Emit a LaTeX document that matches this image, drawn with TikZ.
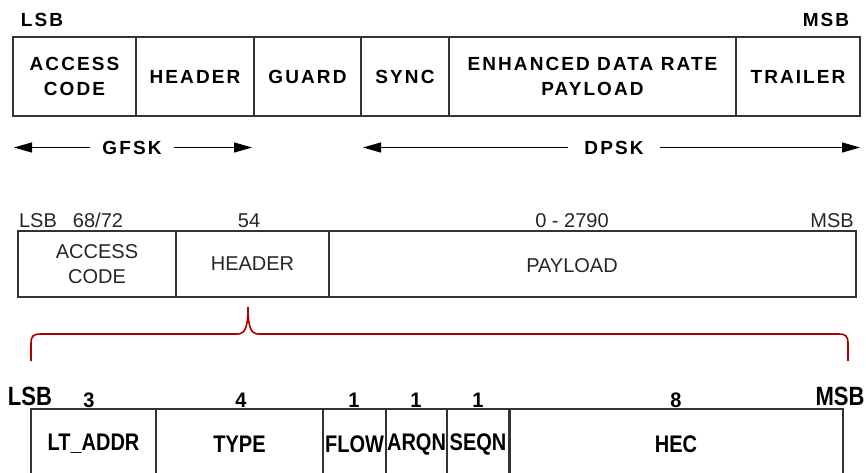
\documentclass[tikz,border=0pt]{standalone}
\usepackage{fontspec}
\setmainfont{Liberation Sans}
\newfontfamily\trackedfont[LetterSpace=11]{Liberation Sans}
\usepackage{tikz}
\usetikzlibrary{arrows.meta}
\definecolor{framegray}{RGB}{51,51,51}
\definecolor{pkttext}{RGB}{38,38,38}
\definecolor{bracered}{RGB}{170,0,0}
\newcommand{\tallText}[1]{\scalebox{1}[1.2]{#1}}
\tikzset{
    % top row: fields on air, tracked bold caps
    airfield/.style={
        draw=framegray, line width=1.4pt, anchor=north west, outer sep=0pt,
        minimum height=79pt, inner sep=0pt, align=center,
        font=\trackedfont\bfseries\fontsize{19}{25}\selectfont
    },
    airlabel/.style={font=\trackedfont\bfseries\fontsize{19}{25}\selectfont},
    modarrow/.style={
        line width=1.1pt,
        black,
        -{Triangle[length=18pt, width=10pt]}
    },
    % middle row: packet with lengths
    pktfield/.style={
        draw=framegray, line width=1.2pt, anchor=north west, outer sep=0pt,
        minimum height=66pt, inner sep=0pt, align=center, text=pkttext,
        font=\fontsize{20}{25}\selectfont
    },
    pktlabel/.style={text=pkttext, font=\fontsize{20}{24}\selectfont},
    % bottom row: header bits
    hdrfield/.style={
        draw=framegray, line width=1.4pt, anchor=north west, outer sep=0pt,
        minimum height=70pt, inner sep=0pt,
        font=\bfseries\fontsize{20}{24}\selectfont
    },
    hdrlabel/.style={font=\bfseries\fontsize{20}{24}\selectfont},
    hdrbrace/.style={bracered, line width=1.6pt}
}
\begin{document}
\begin{tikzpicture}[x=1pt, y=-1pt]
    \useasboundingbox (0,0) rectangle (866,473);
    \clip (0,0) rectangle (866,473);

    \node[airlabel] (lsbA) at (42,20) {LSB};
    \node[airlabel] (msbA) at (826,20) {MSB};
    \node[airfield, minimum width=123pt] (acA) at (13,37) {ACCESS\\CODE};
    \node[airfield, minimum width=118pt] (hdA) at (136,37) {HEADER};
    \node[airfield, minimum width=107pt] (gdA) at (254,37) {GUARD};
    \node[airfield, minimum width=88pt] (syA) at (361,37) {SYNC};
    \node[airfield, minimum width=287pt] (edA) at (449,37) {ENHANCED DATA RATE\\PAYLOAD};
    \node[airfield, minimum width=124pt] (trA) at (736,37) {TRAILER};

    \node[airlabel, inner xsep=12pt] (gfsk) at (132,147.5) {GFSK};
    \coordinate (gfskL) at (14,147.5);
    \coordinate (gfskR) at (252,147.5);
    \draw[modarrow] (gfsk.west) -- (gfskL);
    \draw[modarrow] (gfsk.east) -- (gfskR);
    \node[airlabel, inner xsep=16pt] (dpsk) at (614,147.5) {DPSK};
    \coordinate (dpskL) at (363,147.5);
    \coordinate (dpskR) at (860,147.5);
    \draw[modarrow] (dpsk.west) -- (dpskL);
    \draw[modarrow] (dpsk.east) -- (dpskR);

    \node[pktlabel, anchor=base] (lsbB) at (38,227) {LSB};
    \node[pktlabel, anchor=base] (lenAC) at (98,227) {68/72};
    \node[pktlabel, anchor=base] (lenHD) at (249,227) {54};
    \node[pktlabel, anchor=base] (lenPL) at (572,227) {0 - 2790};
    \node[pktlabel, anchor=base] (msbB) at (832,227) {MSB};
    \node[pktfield, minimum width=158pt] (acB) at (18,231) {ACCESS\\CODE};
    \node[pktfield, minimum width=153pt] (hdB) at (176,231) {HEADER};
    \node[pktfield, minimum width=527pt] (plB) at (329,231) {};
    \node[pktlabel] (plText) at (572,266) {PAYLOAD};

    \draw[hdrbrace] (31,361) -- (31,344) .. controls (31,336) and (33,334) .. (41,334)
        -- (237,334) .. controls (245,334) and (248,328) .. (248,307)
        .. controls (248,328) and (251,334) .. (259,334)
        -- (838,334) .. controls (846,334) and (848,336) .. (848,344) -- (848,361);

    \node[hdrlabel, font=\bfseries\fontsize{22}{26}\selectfont] (lsbC) at (30,396) {\tallText{LSB}};
    \node[hdrlabel, font=\bfseries\fontsize{22}{26}\selectfont] (msbC) at (840,396) {\tallText{MSB}};
    \node[hdrlabel] (lenLT) at (89,400) {\scalebox{1}[1.05]{3}};
    \node[hdrlabel] (lenTY) at (241,400) {\scalebox{1}[1.05]{4}};
    \node[hdrlabel] (lenFL) at (354,400) {\scalebox{1}[1.05]{1}};
    \node[hdrlabel] (lenAR) at (416,400) {\scalebox{1}[1.05]{1}};
    \node[hdrlabel] (lenSQ) at (478,400) {\scalebox{1}[1.05]{1}};
    \node[hdrlabel] (lenHE) at (676,400) {\scalebox{1}[1.05]{8}};
    \node[hdrfield, minimum width=125pt] (ltC) at (31,409) {\tallText{LT\_ADDR}};
    \node[hdrfield, minimum width=167pt] (tyC) at (156,409) {\tallText{TYPE}};
    \node[hdrfield, minimum width=63pt] (flC) at (323,409) {\tallText{FLOW}};
    \node[hdrfield, minimum width=61pt] (arC) at (386,409) {\tallText{ARQN}};
    \node[hdrfield, minimum width=62pt] (sqC) at (447,409) {\tallText{SEQN}};
    \node[hdrfield, minimum width=334pt] (heC) at (509,409) {\tallText{HEC}};
    \draw[framegray, line width=3pt] (sqC.north east) -- (sqC.south east);
\end{tikzpicture}
\end{document}
